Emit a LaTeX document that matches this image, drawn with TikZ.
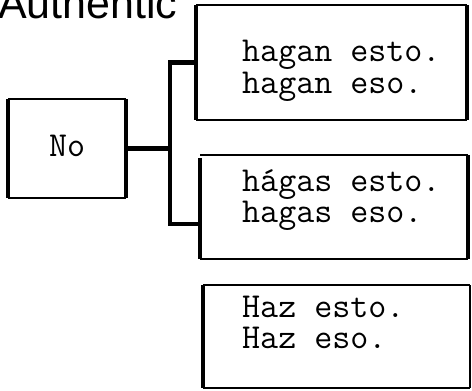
\documentclass[tikz,border=0pt]{standalone}
\usepackage{fontspec}
\newfontfamily\headfont{Liberation Sans}
\begin{document}
\begin{tikzpicture}[x=1pt,y=-1pt,
  thickedge/.style={line width=4.4pt},
  thinedge/.style={line width=1.9pt},
  faintedge/.style={line width=1.1pt},
  conn/.style={line width=4.4pt, line join=miter},
  frame/.style={inner sep=0pt, outer sep=0pt},
  tt/.style={font=\fontsize{35}{35}\selectfont\ttfamily, inner sep=0pt, anchor=base west, text height=21pt, text depth=6pt}]
\useasboundingbox (0,0) rectangle (472,391);
\clip (0,0) rectangle (472,391);
% heading (cut at the top)
\node[font=\fontsize{43}{43}\selectfont\headfont, inner sep=0pt, anchor=base west] (head) at (-2,18) {Authentic};
% boxes as frames
\node[frame, minimum width=118pt, minimum height=99pt] (no) at (67,148.5) {};
\node[frame, minimum width=271pt, minimum height=115pt] (b1) at (331.5,62.5) {};
\node[frame, minimum width=268pt, minimum height=104pt] (b2) at (334,207) {};
\node[frame, minimum width=267pt, minimum height=103pt] (b3) at (336.5,336.5) {};
% No box
\draw[thinedge] (no.north west) -- (no.north east);
\draw[thinedge] (no.south west) -- (no.south east);
\draw[thickedge] (no.north west) -- (no.south west);
\draw[thickedge] (no.north east) -- (no.south east);
\node[tt] (notext) at (49,156) {No};
% box 1
\draw[thinedge] (b1.north west) -- (b1.north east);
\draw[thinedge] (b1.south west) -- (b1.south east);
\draw[thickedge] (b1.north west) -- (b1.south west);
\draw[line width=3.2pt] (b1.north east) -- (b1.south east);
\node[tt] (b1a) at (242,61) {hagan esto.};
\node[tt] (b1b) at (242,93) {hagan eso.};
% box 2
\draw[thinedge] (b2.north west) -- (b2.north east);
\draw[thinedge] (b2.south west) -- (b2.south east);
\draw[thickedge] ([yshift=-3pt]b2.north west) -- (b2.south west);
\draw[line width=3.2pt] (b2.north east) -- (b2.south east);
\node[tt] (b2a) at (242,191) {h\'agas esto.};
\node[tt] (b2b) at (242,222) {hagas eso.};
% box 3
\draw[thinedge] (b3.north west) -- (b3.north east);
\draw[thinedge] (b3.south west) -- (b3.south east);
\draw[thickedge] (b3.north west) -- (b3.south west);
\draw[faintedge] (b3.north east) -- (b3.south east);
\node[tt] (b3a) at (242,317) {Haz esto.};
\node[tt] (b3b) at (242,348) {Haz eso.};
% connectors
\coordinate (j) at (170,148.5);
\coordinate (jb) at (170,224);
\draw[conn] (no.east) -- (j);
\draw[conn] (b1.west) -| (jb) -- (b2.west |- jb);
\end{tikzpicture}
\end{document}
